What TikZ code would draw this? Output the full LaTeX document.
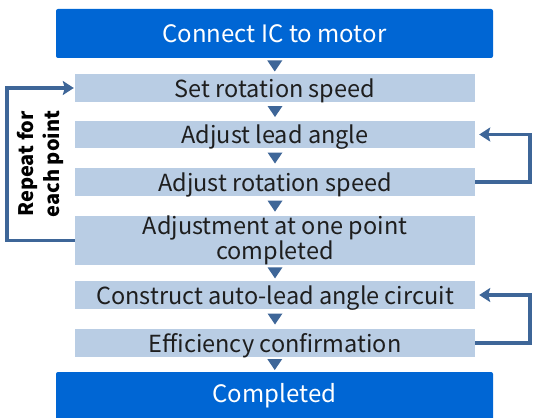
\documentclass[tikz,border=0pt]{standalone}
\usepackage{fontspec}
\setmainfont{Noto Sans CJK JP}
\usetikzlibrary{arrows.meta,calc}
\definecolor{darkblue}{RGB}{0,102,212}
\definecolor{lightblue}{RGB}{185,205,228}
\definecolor{linkblue}{RGB}{62,102,152}
\definecolor{txtdark}{RGB}{30,30,30}
\tikzset{
  mainbox/.style={fill=darkblue, rounded corners=2pt, minimum width=437pt, inner sep=0pt,
    text=white, text height=17.5pt, text depth=0pt, font=\fontsize{24}{26}\selectfont},
  stepbox/.style={fill=lightblue, minimum width=400pt, inner sep=0pt, text=txtdark,
    text height=18pt, text depth=0pt, font=\fontsize{23.5}{18}\selectfont},
  twoline/.style={text height=, text depth=},
  looparrow/.style={draw=linkblue, line width=3.5pt,
    -{Stealth[length=11pt,width=14pt,inset=2pt]}},
  tri/.style={fill=linkblue}
}
\newcommand{\downtri}[2]{%
  \fill[tri] ($(#1.south)!0.5!(#2.north)$) ++(-7.5,-5.5) -- ++(15,0) -- ++(-7.5,11) -- cycle;}
\begin{document}
\begin{tikzpicture}[x=1pt,y=-1pt]
\useasboundingbox (0,0) rectangle (534,417);
\node[mainbox, minimum height=49pt] (top) at (274.5,33.5) {Connect IC to motor};
\node[stepbox, minimum height=28pt] (b1) at (275,88) {Set rotation speed};
\node[stepbox, minimum height=27pt] (b2) at (275,134.5) {Adjust lead angle};
\node[stepbox, minimum height=28pt] (b3) at (275,182) {Adjust rotation speed};
\node[stepbox, twoline, minimum height=45pt] (b4) at (275,240.5) {\raisebox{-8.5pt}{\renewcommand{\arraystretch}{0.95}\begin{tabular}{@{}c@{}}Adjustment at one point\\completed\end{tabular}}};
\node[stepbox, minimum height=28pt] (b5) at (275,295) {Construct auto-lead angle circuit};
\node[stepbox, minimum height=28pt] (b6) at (275,343) {Efficiency confirmation};
\node[mainbox, minimum height=52pt] (end) at (274.5,398) {\raisebox{4pt}{Completed}};
\downtri{top}{b1}
\downtri{b1}{b2}
\downtri{b2}{b3}
\downtri{b3}{b4}
\downtri{b4}{b5}
\downtri{b5}{b6}
\downtri{b6}{end}
\draw[looparrow, shorten >=1pt] (b4.west) -- ++(-68,0) |- (b1.west);
\draw[looparrow, shorten >=4pt] (b3.east) -- ++(55,0) |- (b2.east);
\draw[looparrow, shorten >=4pt] (b6.east) -- ++(55,0) |- (b5.east);
\node[rotate=90, align=center, text=black, font=\bfseries\fontsize{20}{26}\selectfont] (rep) at (40,164) {Repeat for\\each point};
\end{tikzpicture}
\end{document}
